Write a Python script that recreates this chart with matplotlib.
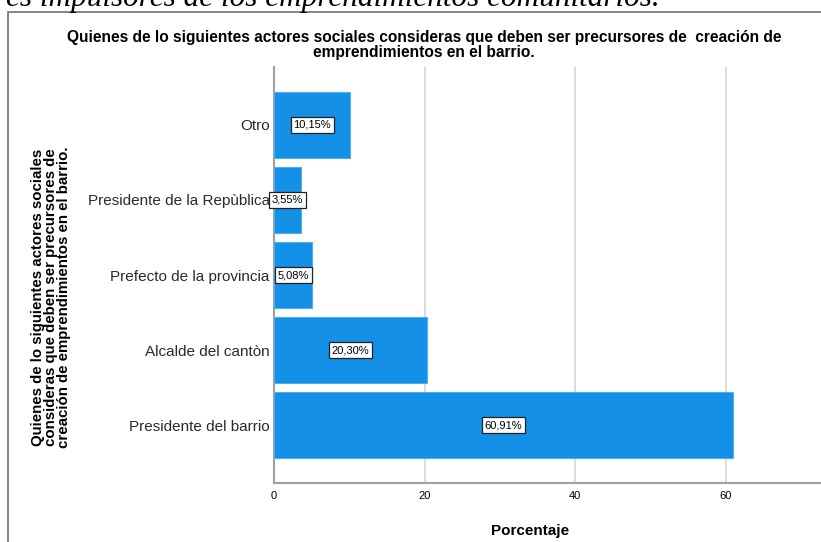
import matplotlib.pyplot as plt
from matplotlib.patches import Rectangle

# datos (de abajo hacia arriba)
categorias = ['Presidente del barrio', 'Alcalde del cantòn', 'Prefecto de la provincia',
              'Presidente de la Repùblica', 'Otro']
porcentajes = [60.91, 20.30, 5.08, 3.55, 10.15]
etiquetas = ['60,91%', '20,30%', '5,08%', '3,55%', '10,15%']
xticks = [0, 20, 40, 60]

plt.rcParams['font.family'] = ['Liberation Sans', 'DejaVu Sans']

fig = plt.figure(figsize=(8.21, 5.42), dpi=100)
ax = fig.add_axes([274/821, 1-483/542, 1-274/821, (483-67)/542])

pos = list(range(len(categorias)))
ax.barh(pos, porcentajes, height=0.88, color='#1490e6', edgecolor='#4fb0f0', linewidth=0.8, zorder=3)

for p, v, t in zip(pos, porcentajes, etiquetas):
    ax.text(v/2, p, t, ha='center', va='center', fontsize=8, zorder=4,
            bbox=dict(boxstyle='square,pad=0.25', facecolor='white', edgecolor='#222222', linewidth=0.9))

ax.set_xlim(0, (821-274)/7.53)
ax.set_ylim(-0.773, 4.773)
ax.set_yticks(pos)
ax.set_yticklabels(categorias, fontsize=11, color='#2a2a2a')
ax.set_xticks(xticks)
ax.set_xticklabels([str(x) for x in xticks], fontsize=8)
ax.tick_params(length=0, pad=6)
ax.tick_params(axis='y', pad=3)

ax.grid(axis='x', color='#d4d4d4', linewidth=1.2, zorder=0)
for s in ['top', 'right']:
    ax.spines[s].set_visible(False)
ax.spines['left'].set_color('#a0a0a0')
ax.spines['bottom'].set_color('#a0a0a0')
ax.spines['left'].set_linewidth(1.5)
ax.spines['bottom'].set_linewidth(1.5)

ax.set_xlabel('Porcentaje', fontsize=11, fontweight='bold')
ax.xaxis.set_label_coords((530-274)/(821-274), -0.098)

fig.text(51/821, 1-297/542, 'Quienes de lo siguientes actores sociales\nconsideras que deben ser precursores de\ncreación de emprendimientos en el barrio.',
         rotation=90, ha='center', va='center', fontsize=10.8, fontweight='bold',
         family=['Liberation Sans Narrow', 'Liberation Sans'], linespacing=0.92)

fig.text(424/821, 1-45/542, 'Quienes de lo siguientes actores sociales consideras que deben ser precursores de  creación de\nemprendimientos en el barrio.',
         ha='center', va='center', fontsize=11.2, fontweight='bold',
         family=['Liberation Sans Narrow', 'Liberation Sans'], linespacing=0.95)

# marco del gráfico
fig.patches.append(Rectangle((8/821, -0.1), 1.2, 1-12/542+0.1, transform=fig.transFigure,
                             fill=False, edgecolor='#707070', linewidth=1.2))

# texto del documento cortado arriba
fig.text(660/821, 1-6/542, 'es impulsores de los emprendimientos comunitarios.', ha='right',
         va='baseline', fontsize=22.5, style='italic', family='Liberation Serif')

fig.savefig('out.png', dpi=100)
